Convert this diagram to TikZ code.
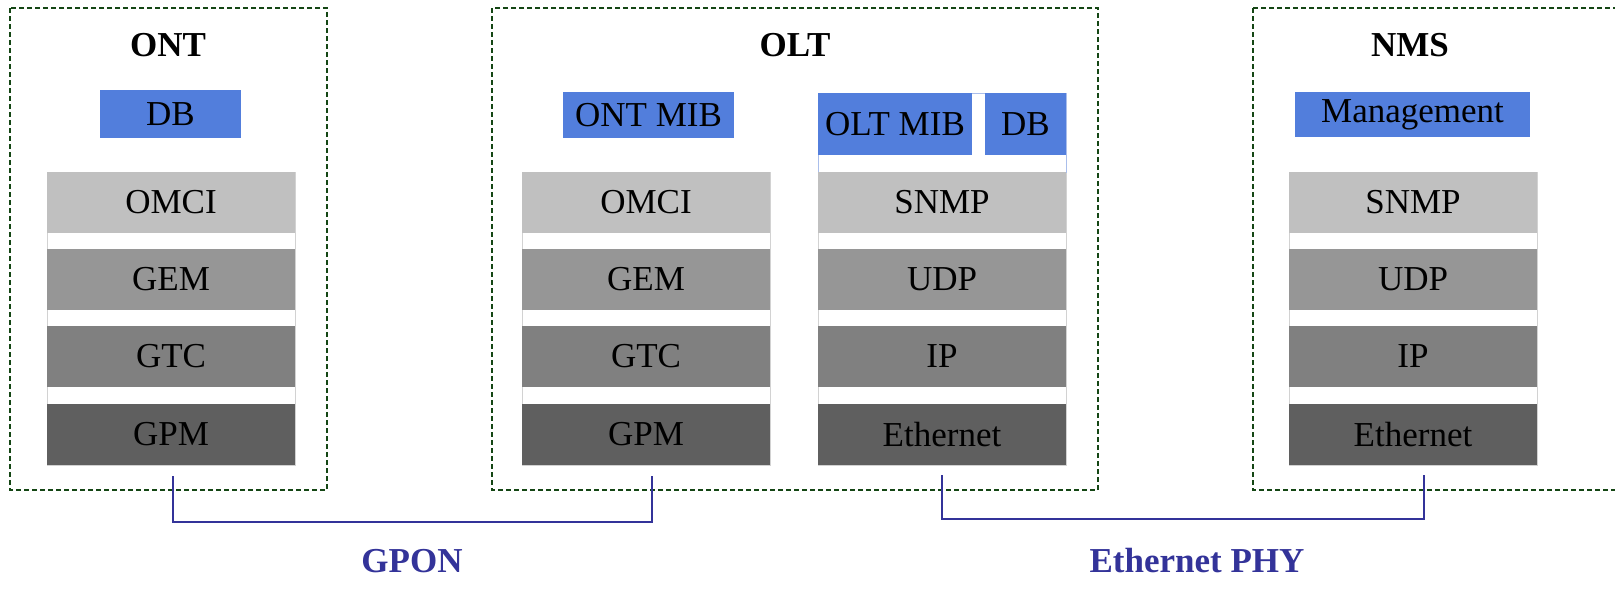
\documentclass[tikz,border=0pt]{standalone}
\usepackage{fontspec}
\setmainfont{Liberation Serif}
\definecolor{mibblue}{RGB}{82,126,220}
\definecolor{lay1}{RGB}{192,192,192}
\definecolor{lay2}{RGB}{150,150,150}
\definecolor{lay3}{RGB}{128,128,128}
\definecolor{lay4}{RGB}{95,95,95}
\definecolor{frame}{RGB}{20,70,20}
\definecolor{link}{RGB}{51,51,153}
\definecolor{gapline}{RGB}{210,210,210}
\definecolor{gapblue}{RGB}{170,190,235}
\tikzset{
  txt/.style={font=\fontsize{17.5}{20}\selectfont, text=black},
  layer/.style={txt, draw=none, minimum width=124pt, minimum height=30.5pt, inner sep=0pt},
  blue/.style={txt, fill=mibblue, inner sep=0pt},
  title/.style={font=\fontsize{17.5}{20}\selectfont\bfseries},
  grp/.style={draw=frame, line width=0.9pt, dash pattern=on 2.5pt off 1.5pt},
  conn/.style={draw=link, line width=1pt},
  linklabel/.style={font=\fontsize{17.5}{20}\selectfont\bfseries, text=link},
}
\begin{document}
\begin{tikzpicture}[x=0.5pt,y=-0.5pt]
\useasboundingbox (0,0) rectangle (1615,596);
% group frames
\draw[grp] (10,8) rectangle (327,490);
\draw[grp] (492,8) rectangle (1098,490);
\draw[grp] (1253,8) -- (1625,8) (1253,8) -- (1253,490) -- (1625,490);
% titles
\node[title] (tont) at (168,45) {ONT};
\node[title] (tolt) at (795,45) {OLT};
\node[title] (tnms) at (1410,45) {NMS};
% column outlines (gaps)
\foreach \xa/\xb in {47/295, 522/770, 818/1066, 1289/1537}
  \draw[gapline, line width=0.5pt] (\xa,172) rectangle (\xb,465);
\draw[gapblue, line width=0.5pt] (818,93) rectangle (1066,172);
% blue boxes
\node[blue, minimum width=70.5pt, minimum height=24pt] (ontdb) at (170.5,114) {DB};
\node[blue, minimum width=85.5pt, minimum height=23pt] (ontmib) at (648.5,115) {ONT MIB};
\node[blue, minimum width=77pt, minimum height=31pt] (oltmib) at (895,124) {OLT MIB};
\node[blue, minimum width=40.5pt, minimum height=31pt] (oltdb) at (1025.5,124) {DB};
\node[blue, minimum width=117.5pt, minimum height=22.5pt] (mgmt) at (1412.5,114.5) {Management};
% ONT stack
\node[layer, fill=lay1] (o1) at (171,202) {OMCI};
\node[layer, fill=lay2] (o2) at (171,279.5) {GEM};
\node[layer, fill=lay3] (o3) at (171,356.5) {GTC};
\node[layer, fill=lay4] (o4) at (171,434.5) {GPM};
% OLT left stack
\node[layer, fill=lay1] (l1) at (646,202) {OMCI};
\node[layer, fill=lay2] (l2) at (646,279.5) {GEM};
\node[layer, fill=lay3] (l3) at (646,356.5) {GTC};
\node[layer, fill=lay4] (l4) at (646,434.5) {GPM};
% OLT right stack
\node[layer, fill=lay1] (r1) at (942,202) {SNMP};
\node[layer, fill=lay2] (r2) at (942,279.5) {UDP};
\node[layer, fill=lay3] (r3) at (942,356.5) {IP};
\node[layer, fill=lay4] (r4) at (942,434.5) {Ethernet};
% NMS stack
\node[layer, fill=lay1] (n1) at (1413,202) {SNMP};
\node[layer, fill=lay2] (n2) at (1413,279.5) {UDP};
\node[layer, fill=lay3] (n3) at (1413,356.5) {IP};
\node[layer, fill=lay4] (n4) at (1413,434.5) {Ethernet};
% connectors
\coordinate (gA) at (173,476);
\coordinate (gB) at (652,476);
\coordinate (eA) at (942,475);
\coordinate (eB) at (1424,475);
\draw[conn] (gA) -- (173,522) -| (gB);
\draw[conn] (eA) -- (942,519) -| (eB);
\node[linklabel] (gpon) at (412,561) {GPON};
\node[linklabel] (ephy) at (1197,561) {Ethernet PHY};
\end{tikzpicture}
\end{document}
